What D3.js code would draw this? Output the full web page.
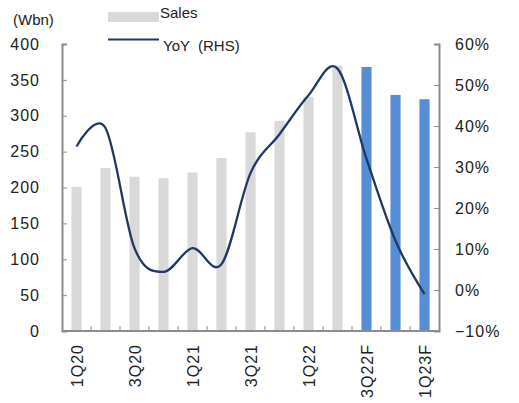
<!DOCTYPE html>
<html>
<head>
<meta charset="utf-8">
<script src="https://cdn.jsdelivr.net/npm/d3@7"></script>
<style>
  body { margin: 0; background: #fff; }
  svg text { font-family: "Liberation Sans", Arial, sans-serif; fill: #222; }
</style>
</head>
<body>
<div id="chart"></div>
<script>
const quarters = ["1Q20","2Q20","3Q20","4Q20","1Q21","2Q21","3Q21","4Q21","1Q22","2Q22","3Q22F","4Q22F","1Q23F"]
const sales = [201, 227, 215, 213, 221, 241, 277, 293, 326, 370, 368, 329, 323]
const yoy = [35, 39.5, 10.2, 4.4, 10.2, 6.3, 28.5, 38, 47.5, 54, 32, 12, -1]
const forecast = [false,false,false,false,false,false,false,false,false,false,true,true,true]
const leftTicks = [0, 50, 100, 150, 200, 250, 300, 350, 400]
const rightTicks = [-10, 0, 10, 20, 30, 40, 50, 60]
const shownLabels = ["1Q20","3Q20","1Q21","3Q21","1Q22","3Q22F","1Q23F"]

const width = 519, height = 403
const plotLeft = 62, plotRight = 439, plotTop = 44, plotBottom = 331
const axisColor = "#8c8c8c"
, grayBar = "#d9d9d9"
, blueBar = "#558ed5"
, lineColor = "#1f3864"

const svg = d3.select("#chart").append("svg")
  .attr("width", width)
  .attr("height", height)

const x = d3.scaleBand()
  .domain(quarters)
  .range([plotLeft, plotRight])
  .paddingInner(0.65)
  .paddingOuter(0.325)

const yL = d3.scaleLinear().domain([0, 400]).range([plotBottom, plotTop])
const yR = d3.scaleLinear().domain([-10, 60]).range([plotBottom, plotTop])

// bars
svg.selectAll(".bar")
  .data(quarters)
  .enter().append("rect")
  .attr("class", "bar")
  .attr("x", d => x(d))
  .attr("width", x.bandwidth())
  .attr("y", (d, i) => yL(sales[i]))
  .attr("height", (d, i) => yL(0) - yL(sales[i]))
  .style("fill", (d, i) => forecast[i] ? blueBar : grayBar)

// yoy line
const line = d3.line()
  .x((d, i) => x(quarters[i]) + x.bandwidth() / 2)
  .y(d => yR(d))
  .curve(d3.curveCardinal.tension(0))

svg.append("path")
  .datum(yoy)
  .attr("d", line)
  .style("fill", "none")
  .style("stroke", lineColor)
  .style("stroke-width", 2.3)

// left axis
const leftAxis = svg.append("g")
  .attr("transform", `translate(${plotLeft},0)`)
  .call(d3.axisRight(yL).tickValues(leftTicks).tickSize(5).tickFormat(d3.format("d")))
leftAxis.selectAll("text")
  .attr("x", -22)
  .attr("text-anchor", "end")
  .style("font-size", "16px")
  .style("letter-spacing", "1px")

// right axis
const rightAxis = svg.append("g")
  .attr("transform", `translate(${plotRight},0)`)
  .call(d3.axisLeft(yR).tickValues(rightTicks).tickSize(5).tickFormat(d => (d < 0 ? "\u2212" : "") + Math.abs(d) + "%"))
rightAxis.selectAll("text")
  .attr("x", 16)
  .attr("text-anchor", "start")
  .style("font-size", "16px")
  .style("letter-spacing", "1px")

// bottom axis: ticks at category boundaries
const boundaries = d3.range(quarters.length + 1).map(i => plotLeft + i * (plotRight - plotLeft) / quarters.length)
svg.append("g").selectAll("line")
  .data(boundaries.slice(1, -1))
  .enter().append("line")
  .attr("x1", d => d).attr("x2", d => d)
  .attr("y1", plotBottom).attr("y2", plotBottom - 5)
  .style("stroke", axisColor)
svg.append("line")
  .attr("x1", plotLeft).attr("x2", plotRight)
  .attr("y1", plotBottom).attr("y2", plotBottom)
  .style("stroke", axisColor)
  .style("stroke-width", 2)

svg.selectAll(".xlab")
  .data(shownLabels)
  .enter().append("text")
  .attr("class", "xlab")
  .attr("transform", d => `translate(${x(d) + x.bandwidth() / 2 + 6},${plotBottom + 13}) rotate(-90)`)
  .attr("text-anchor", "end")
  .style("font-size", "16px")
  .style("letter-spacing", "1px")
  .text(d => d)

svg.selectAll(".domain").style("stroke", axisColor).style("stroke-width", 2)
svg.selectAll(".tick line").style("stroke", axisColor)

// unit
svg.append("text")
  .attr("x", 13).attr("y", 25)
  .style("font-size", "15px")
  .text("(Wbn)")

// legend
svg.append("rect")
  .attr("x", 108).attr("y", 12)
  .attr("width", 51).attr("height", 10)
  .style("fill", grayBar)
svg.append("text")
  .attr("x", 160).attr("y", 18)
  .style("font-size", "15px")
  .text("Sales")
svg.append("line")
  .attr("x1", 108).attr("x2", 159)
  .attr("y1", 39.5).attr("y2", 39.5)
  .style("stroke", lineColor)
  .style("stroke-width", 2)
svg.append("text")
  .attr("x", 163).attr("y", 51)
  .style("font-size", "15px")
  .style("white-space", "pre")
  .text("YoY  (RHS)")
</script>
</body>
</html>
